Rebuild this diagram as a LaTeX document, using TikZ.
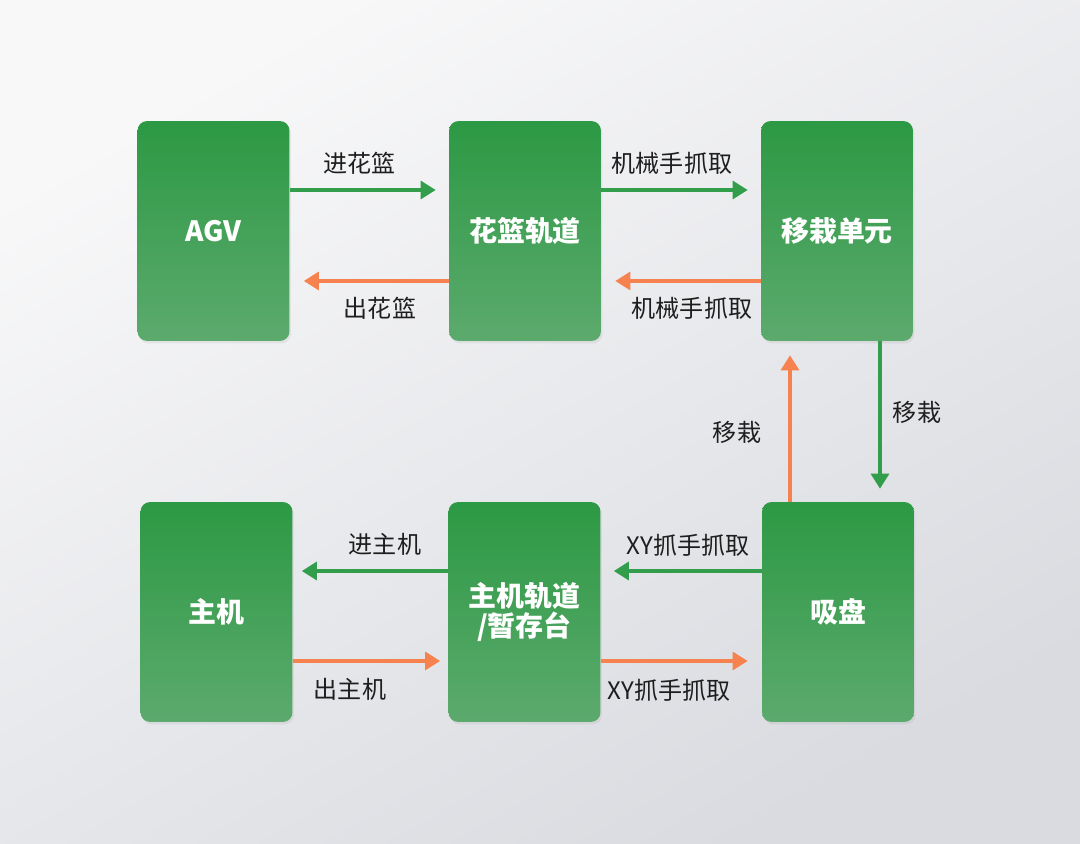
\documentclass[tikz,border=0pt]{standalone}
\usepackage{fontspec}
\setmainfont{Noto Sans CJK SC}
\usetikzlibrary{positioning,arrows.meta,shadows}
\definecolor{CellTop}{RGB}{44,153,68}
\definecolor{CellBot}{RGB}{92,170,109}
\definecolor{FlowGreen}{RGB}{50,157,74}
\definecolor{FlowOrange}{RGB}{246,130,80}
\definecolor{BgLight}{RGB}{248,248,249}
\definecolor{BgDark}{RGB}{217,219,224}
\definecolor{LabelInk}{RGB}{30,30,30}
\tikzset{
  cell/.style={rounded corners=5.5pt,top color=CellTop,bottom color=CellBot,
    minimum width=3.04cm,minimum height=4.4cm,text=white,align=center,
    font=\fontsize{15.9}{17.6}\selectfont\bfseries,
    drop shadow={opacity=0.12,shadow xshift=0.03cm,shadow yshift=-0.05cm}},
  fwd/.style={draw=FlowGreen,line width=1.8pt,-{Triangle[length=0.3cm,width=0.36cm]},shorten >=0.26cm},
  back/.style={draw=FlowOrange,line width=1.8pt,-{Triangle[length=0.3cm,width=0.36cm]},shorten >=0.28cm},
  lbl/.style={text=LabelInk,font=\fontsize{13.7}{16}\selectfont},
}

\begin{document}
\begin{tikzpicture}[x=0.02cm,y=-0.02cm]
\shade[top color=BgLight,bottom color=BgDark,shading angle=30] (0,0) rectangle (1080,844);
\useasboundingbox (0,0) rectangle (1080,844);
% cells
\node[cell] (agv) at (213.5,231) {AGV};
\node[cell] (basket) at (525,231) {花篮轨道};
\node[cell] (transfer) at (837,231) {移栽单元};
\node[cell] (host) at (216.5,612) {主机};
\node[cell] (hostrail) at (524.5,612) {主机轨道\\/暂存台};
\node[cell] (chuck) at (838,612) {吸盘};
% top row
\draw[fwd] ([yshift=0.82cm]agv.east) -- ([yshift=0.82cm]basket.west);
\draw[back] ([yshift=-1cm]basket.west) -- ([yshift=-1cm]agv.east);
\draw[fwd] ([yshift=0.82cm]basket.east) -- ([yshift=0.82cm]transfer.west);
\draw[back] ([yshift=-1cm]transfer.west) -- ([yshift=-1cm]basket.east);
% transfer <-> chuck
\draw[fwd] ([xshift=0.86cm]transfer.south) -- ([xshift=0.86cm]transfer.south |- chuck.north);
\draw[back] ([xshift=-0.96cm]chuck.north) -- ([xshift=-0.96cm]chuck.north |- transfer.south);
% bottom row
\draw[fwd] ([yshift=0.82cm]chuck.west) -- ([yshift=0.82cm]hostrail.east);
\draw[back] ([yshift=-0.98cm]hostrail.east) -- ([yshift=-0.98cm]chuck.west);
\draw[fwd,shorten >=0.18cm] ([yshift=0.82cm]hostrail.west) -- ([yshift=0.82cm]host.east);
\draw[back,shorten >=0.16cm] ([yshift=-0.98cm]host.east) -- ([yshift=-0.98cm]hostrail.west);
% labels
\node[lbl] (inbasket) at (359.5,163) {进花篮};
\node[lbl] (outbasket) at (380,308) {出花篮};
\node[lbl] (pickfwd) at (672,163) {机械手抓取};
\node[lbl] (pickback) at (692,308) {机械手抓取};
\node[lbl] (movedown) at (917,412) {移栽};
\node[lbl] (moveup) at (737,432) {移栽};
\node[lbl] (inhost) at (385,544) {进主机};
\node[lbl] (outhost) at (350,689) {出主机};
\node[lbl] (xyback) at (688,545) {XY抓手抓取};
\node[lbl] (xyfwd) at (669,690) {XY抓手抓取};
\end{tikzpicture}
\end{document}
